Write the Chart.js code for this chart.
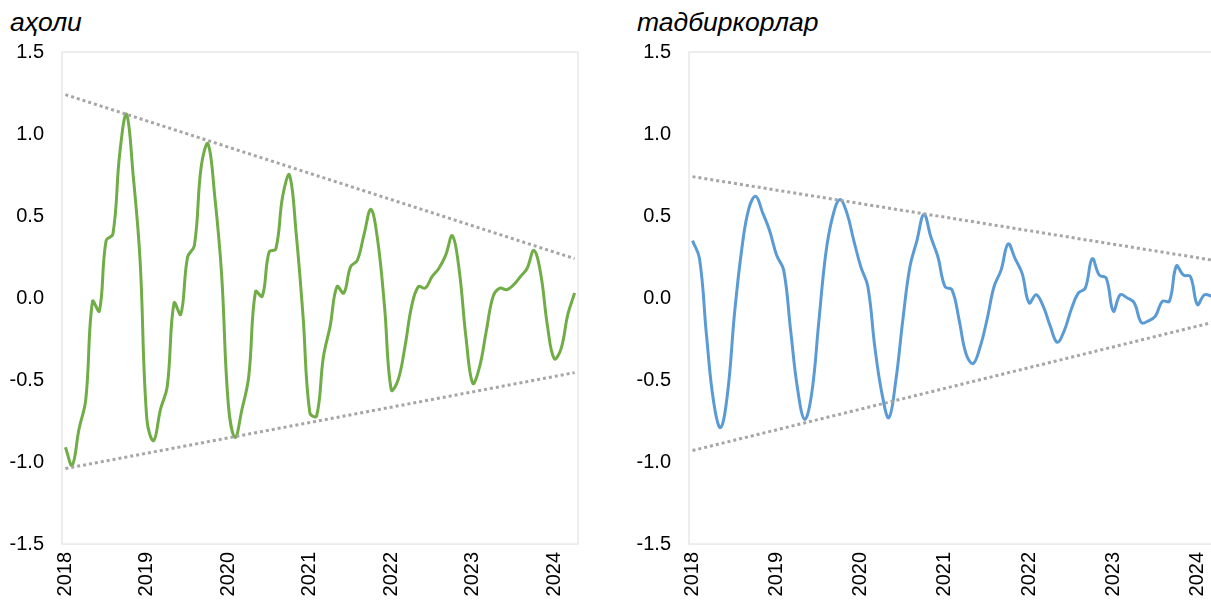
<!DOCTYPE html>
<html>
<head>
<meta charset="utf-8">
<script src="https://cdn.jsdelivr.net/npm/chart.js@4.4.1/dist/chart.umd.min.js"></script>
<style>
  body { margin: 0; width: 1211px; height: 606px; overflow: hidden; background: #fff; position: relative; font-family: "Liberation Sans", Arial, sans-serif; }
  .panel { position: absolute; top: 0; height: 606px; }
  .sub { position: absolute; font-style: italic; font-size: 26.5px; line-height: 1; color: #000; }
</style>
</head>
<body>
<div class="sub" style="left:10px; top:9px;">аҳоли</div>
<div class="sub" style="left:637px; top:9px;">тадбиркорлар</div>
<div class="panel" style="left:0; width:600px;"><canvas id="chartAholi"></canvas></div>
<div class="panel" style="left:600px; width:640px;"><canvas id="chartTadbir"></canvas></div>

<script>
// monthly values, Jan 2018 .. Apr 2024
const years = ["2018", "2019", "2020", "2021", "2022", "2023", "2024"];

const aholi = [
  -0.91, -1.02, -0.80, -0.62, -0.02, -0.08, 0.35, 0.39, 0.88, 1.12,
  0.74, 0.23, -0.74, -0.87, -0.68, -0.54, -0.03, -0.10, 0.25, 0.32,
  0.80, 0.94, 0.62, 0.15, -0.65, -0.85, -0.68, -0.48, 0.04, 0.01,
  0.28, 0.30, 0.62, 0.75, 0.39, -0.11, -0.70, -0.72, -0.36, -0.17,
  0.07, 0.03, 0.19, 0.23, 0.39, 0.54, 0.35, -0.05, -0.56, -0.50,
  -0.30, -0.05, 0.07, 0.06, 0.13, 0.18, 0.26, 0.38, 0.17, -0.24,
  -0.52, -0.42, -0.20, 0.01, 0.06, 0.05, 0.08, 0.13, 0.18, 0.29,
  0.15, -0.17, -0.37, -0.31, -0.10, 0.03
];

const tadbirkorlar = [
  0.35, 0.24, -0.23, -0.63, -0.79, -0.58, -0.09, 0.29, 0.54, 0.62,
  0.52, 0.41, 0.26, 0.17, -0.20, -0.56, -0.74, -0.58, -0.15, 0.27,
  0.50, 0.60, 0.52, 0.35, 0.19, 0.07, -0.30, -0.58, -0.73, -0.50,
  -0.13, 0.19, 0.35, 0.51, 0.37, 0.25, 0.07, 0.05, -0.13, -0.34,
  -0.40, -0.30, -0.13, 0.07, 0.17, 0.33, 0.24, 0.15, -0.03, 0.02,
  -0.05, -0.17, -0.27, -0.20, -0.07, 0.03, 0.06, 0.24, 0.14, 0.12,
  -0.08, 0.02, 0.00, -0.03, -0.15, -0.14, -0.11, -0.02, -0.02, 0.195,
  0.14, 0.13, -0.04, 0.02, 0.01, -0.01
];

// linear envelope lines: [first month, last month]
const aholiUpper = [1.24, 0.24];
const aholiLower = [-1.04, -0.455];
const tadbirUpper = [0.74, 0.225];
const tadbirLower = [-0.93, -0.14];

// one category per month, year name only on January
const labels = aholi.map((v, i) => (i % 12 === 0 ? years[i / 12] : ""));

function endsOnly(pair, n) {
  const arr = new Array(n).fill(null);
  arr[0] = pair[0];
  arr[n - 1] = pair[1];
  return arr;
}

// light grey frame round the plot area
const frame = {
  id: "frame",
  beforeDatasetsDraw(chart) {
    const a = chart.chartArea;
    const ctx = chart.ctx;
    ctx.save();
    ctx.strokeStyle = "#e8e8e8";
    ctx.lineWidth = 1.5;
    ctx.strokeRect(a.left, a.top, a.right - a.left, a.bottom - a.top);
    ctx.restore();
  }
};

const tickFont = { family: "'Liberation Sans', Arial, sans-serif", size: 20 };

function trendSet(pair, n) {
  return {
    data: endsOnly(pair, n),
    borderColor: "#a6a6a6",
    borderWidth: 3,
    borderDash: [3, 3],
    pointRadius: 0,
    spanGaps: true,
    tension: 0
  };
}

function makePanel(id, values, color, upper, lower, yWidth, padRight) {
  const n = values.length;
  return new Chart(document.getElementById(id), {
    type: "line",
    data: {
      labels: labels,
      datasets: [
        trendSet(upper, n),
        trendSet(lower, n),
        {
          data: values,
          borderColor: color,
          borderWidth: 3,
          pointRadius: 0,
          tension: 0.4
        }
      ]
    },
    options: {
      responsive: true,
      maintainAspectRatio: false,
      animation: false,
      layout: { padding: { left: 0, right: padRight, top: 52, bottom: 0 } },
      plugins: { legend: { display: false }, tooltip: { enabled: false } },
      scales: {
        x: {
          offset: true,
          grid: { display: false, drawTicks: false },
          border: { display: false },
          ticks: {
            autoSkip: false,
            minRotation: 90,
            maxRotation: 90,
            padding: 8,
            color: "#000",
            font: tickFont
          },
          afterFit(s) {
            s.height = 62;
            // rotated labels would otherwise shrink the plot on the sides
            s.paddingLeft = 0;
            s.paddingRight = 0;
          }
        },
        y: {
          min: -1.5,
          max: 1.5,
          grid: { display: false, drawTicks: false },
          border: { display: false },
          ticks: {
            stepSize: 0.5,
            padding: 18,
            color: "#000",
            font: tickFont,
            callback: (v) => v.toFixed(1)
          },
          afterFit(s) { s.width = yWidth; }
        }
      }
    },
    plugins: [frame]
  });
}

makePanel("chartAholi", aholi, "#70ad47", aholiUpper, aholiLower, 62, 22);
makePanel("chartTadbir", tadbirkorlar, "#5b9bd5", tadbirUpper, tadbirLower, 89, 18);
</script>
</body>
</html>
